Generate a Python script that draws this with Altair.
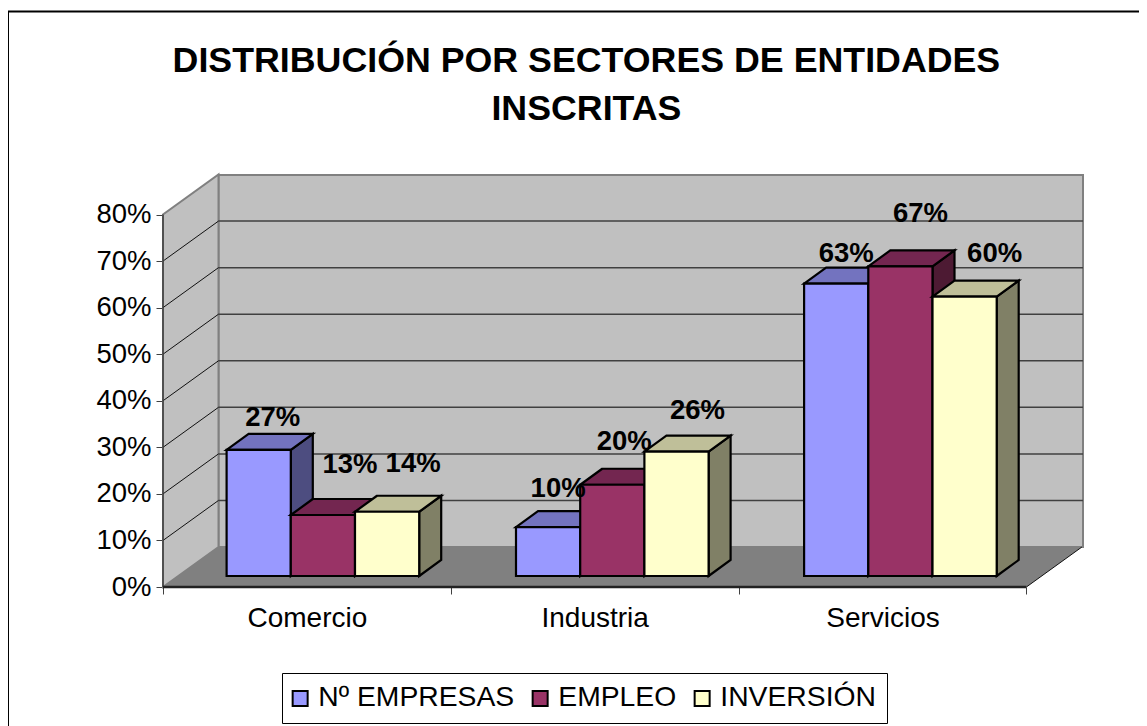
import altair as alt
import pandas as pd

# ---- values ----
categories = ["Comercio", "Industria", "Servicios"]
series = ["Nº EMPRESAS", "EMPLEO", "INVERSIÓN"]
empresas = [27.1, 10.5, 62.8]
empleo = [13.1, 19.6, 66.5]
inversion = [13.8, 26.7, 60.0]
labels_empresas = ["27%", "10%", "63%"]
labels_empleo = ["13%", "20%", "67%"]
labels_inversion = ["14%", "26%", "60%"]
y_ticks = [0, 10, 20, 30, 40, 50, 60, 70, 80]
front_colors = ["#9999ff", "#993366", "#ffffcc"]
top_colors = ["#7373bf", "#732650", "#bfbf99"]
side_colors = ["#4d4d80", "#4d1a33", "#808066"]
title_lines = ["DISTRIBUCIÓN POR SECTORES DE ENTIDADES", "INSCRITAS"]
# label nudges from the bar's top centre, in screen pixels
nudge_x = [[14, 10, 10], [27, 12, 20], [26, 21, 30]]
nudge_y = [[32, 38, 30], [50, 43, 52], [48, 41, 43]]
# small per-category drift of the bar groups, in screen pixels
group_shift = [0, 1.6, 1.9]

values = [empresas, empleo, inversion]
texts = [labels_empresas, labels_empleo, labels_inversion]

# ---- geometry of the fake-3D box ----
PLOT_W, PLOT_H = 920, 412
CAT_PX, PCT_PX = 287.8, 4.656
xu = lambda px: px / CAT_PX
yu = lambda px: px / PCT_PX
WALL_DX, WALL_DY = xu(55.5), yu(40)
BAR_W = xu(64.2)
BAR_X0, BAR_Y0 = xu(63.6), yu(11)
BAR_DX, BAR_DY = xu(22), yu(16)
FONT = "Liberation Sans"

xscale = alt.Scale(domain=[0, PLOT_W / CAT_PX], nice=False, zero=False)
yscale = alt.Scale(domain=[0, PLOT_H / PCT_PX], nice=False, zero=False)

tick_vals = [0, 0.5, 1, 1.5, 2, 2.5, 3]
label_expr = " : ".join(
    f"datum.value == {i + 0.5} ? '{c}'" for i, c in enumerate(categories)
) + " : ''"
xaxis = alt.Axis(
    values=tick_vals, labelExpr=label_expr, grid=False, domain=False,
    tickSize=7, tickColor="#404040", tickWidth=1,
    tickOpacity=alt.expr("datum.value % 1 == 0 ? 1 : 0"),
    labelFont=FONT, labelFontSize=28, labelColor="black",
    labelPadding=10, labelOverlap=False, labelFlush=False,
)
yaxis = alt.Axis(
    values=y_ticks, labelExpr="datum.value + '%'", grid=False, domain=False,
    tickSize=7, tickColor="#404040", tickWidth=1,
    labelFont=FONT, labelFontSize=27.5, labelColor="black",
    labelPadding=5, labelOverlap=False, labelFlush=False,
)
X = alt.X("x:Q", scale=xscale, axis=xaxis, title=None)
Y = alt.Y("y:Q", scale=yscale, axis=yaxis, title=None)
X2 = alt.X2("x2:Q")
Y2 = alt.Y2("y2:Q")


def vertical_face(rows, fill, stroke, width):
    return alt.Chart(pd.DataFrame(rows)).mark_area(
        orient="vertical", fill=fill, stroke=stroke, strokeWidth=width, strokeJoin="miter"
    ).encode(x=X, y=Y, y2=Y2)


def horizontal_face(rows, fill, stroke, width):
    return alt.Chart(pd.DataFrame(rows)).mark_area(
        orient="horizontal", fill=fill, stroke=stroke, strokeWidth=width, strokeJoin="miter"
    ).encode(y=Y, x=X, x2=X2)


def rules(rows, color, width):
    return alt.Chart(pd.DataFrame(rows)).mark_rule(color=color, strokeWidth=width).encode(
        x=X, x2=X2, y=Y, y2=Y2
    )


layers = []

# back wall
layers.append(
    alt.Chart(pd.DataFrame([{"x": WALL_DX, "x2": PLOT_W / CAT_PX, "y": WALL_DY, "y2": PLOT_H / PCT_PX}]))
    .mark_rect(fill="#c0c0c0", stroke="#808080", strokeWidth=2)
    .encode(x=X, x2=X2, y=Y, y2=Y2)
)
# side wall
top_v = y_ticks[-1]
layers.append(vertical_face(
    [{"x": 0.0, "y": 0.0, "y2": float(top_v)}, {"x": WALL_DX, "y": WALL_DY, "y2": top_v + WALL_DY}],
    "#c0c0c0", "#808080", 2,
))
# floor
layers.append(horizontal_face(
    [{"y": 0.0, "x": 0.0, "x2": 3.0}, {"y": WALL_DY, "x": WALL_DX, "x2": 3.0 + WALL_DX}],
    "#808080", "#808080", 0,
))
# grid on the back wall
layers.append(rules(
    [{"x": WALL_DX, "x2": PLOT_W / CAT_PX, "y": v + WALL_DY, "y2": v + WALL_DY} for v in y_ticks[1:-1]],
    "#404040", 1.5,
))
# grid on the side wall
layers.append(rules(
    [{"x": 0.0, "x2": WALL_DX, "y": float(v), "y2": v + WALL_DY} for v in y_ticks[1:-1]],
    "#111111", 1,
))
# floor edge, left axis line, bottom axis line
layers.append(rules([{"x": 3.0, "x2": 3.0 + WALL_DX, "y": 0.0, "y2": WALL_DY}], "#111111", 1))
layers.append(rules([{"x": 0.0, "x2": 0.0, "y": 0.0, "y2": float(top_v)}], "#404040", 1.5))
layers.append(rules([{"x": 0.0, "x2": 3.0, "y": 0.0, "y2": 0.0}], "#222222", 2.5))

# bars, drawn from back-left to front-right: side, top, front
label_rows = []
for c, cat in enumerate(categories):
    for s, name in enumerate(series):
        v = values[s][c]
        left = c + BAR_X0 + xu(group_shift[c]) + s * BAR_W
        right = left + BAR_W
        base = BAR_Y0
        top = BAR_Y0 + v
        layers.append(vertical_face(
            [{"x": right, "y": base, "y2": top},
             {"x": right + BAR_DX, "y": base + BAR_DY, "y2": top + BAR_DY}],
            side_colors[s], "black", 2.2,
        ))
        layers.append(horizontal_face(
            [{"y": top, "x": left, "x2": right},
             {"y": top + BAR_DY, "x": left + BAR_DX, "x2": right + BAR_DX}],
            top_colors[s], "black", 2.2,
        ))
        layers.append(
            alt.Chart(pd.DataFrame([{"x": left, "x2": right, "y": base, "y2": top, "serie": name}]))
            .mark_rect(stroke="black", strokeWidth=2.2)
            .encode(
                x=X, x2=X2, y=Y, y2=Y2,
                color=alt.Color(
                    "serie:N",
                    scale=alt.Scale(domain=series, range=front_colors),
                    legend=alt.Legend(
                        title=None, orient="none", legendX=119, legendY=498,
                        direction="horizontal", columns=3,
                        strokeColor="black", padding=11,
                        symbolType="square", symbolSize=225,
                        symbolStrokeColor="black", symbolStrokeWidth=2, symbolOpacity=1,
                        symbolOffset=-7,
                        labelFont=FONT, labelFontSize=28.3, labelColor="black",
                        labelOffset=4, columnPadding=13, labelLimit=400,
                    ),
                ),
            )
        )
        label_rows.append({
            "x": (left + right) / 2 + xu(nudge_x[s][c]),
            "y": top + yu(nudge_y[s][c]),
            "label": texts[s][c],
        })

layers.append(
    alt.Chart(pd.DataFrame(label_rows))
    .mark_text(font=FONT, fontSize=27.5, fontWeight="bold", color="black", align="center", baseline="middle")
    .encode(x=X, y=Y, text="label:N")
)

# outer frame (top and left edges only are in the picture)
layers.append(alt.Chart(pd.DataFrame({"a": [0]})).mark_rule(color="black", strokeWidth=2).encode(
    x=alt.value(-155), y=alt.value(-163.5), y2=alt.value(560)))
layers.append(alt.Chart(pd.DataFrame({"a": [0]})).mark_rule(color="black", strokeWidth=2).encode(
    x=alt.value(-155), x2=alt.value(990), y=alt.value(-163.5)))

chart = alt.layer(*layers).properties(
    width=PLOT_W,
    height=PLOT_H,
    padding={"left": 155, "top": 167, "right": 56, "bottom": 139},
    autosize=alt.AutoSizeParams(type="none"),
    background="white",
    title=alt.TitleParams(
        text=title_lines, font=FONT, fontSize=35.75, fontWeight="bold", color="black",
        anchor="middle", lineHeight=48, dx=-36.6, offset=-117,
    ),
).configure_view(stroke=None)

chart.save("out.html", embed_options={"renderer": "svg", "actions": False})
